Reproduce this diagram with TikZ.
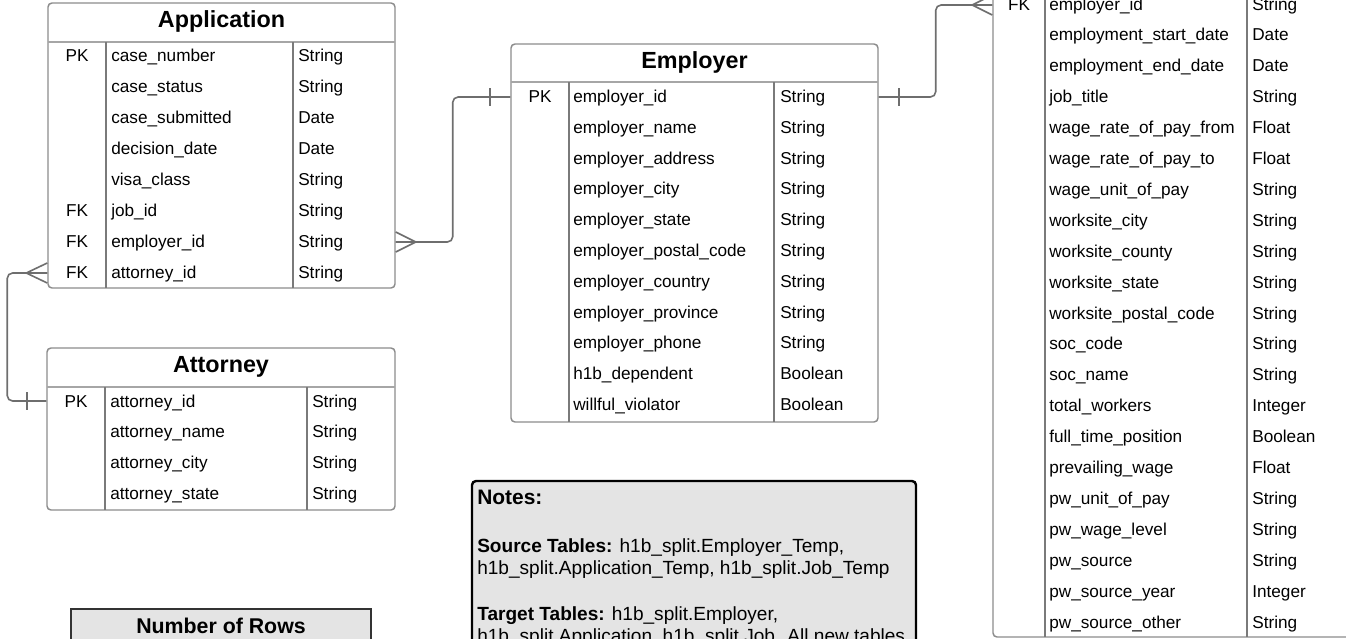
\documentclass[tikz,border=0pt]{standalone}
\usepackage{fontspec}
\setmainfont{Liberation Sans}
\usetikzlibrary{fit}
\definecolor{tblgray}{HTML}{8C8C8C}
\definecolor{sepgray}{HTML}{A6A6A6}
\definecolor{colgray}{HTML}{7A7A7A}
\definecolor{conngray}{HTML}{6E6E6E}
\definecolor{notefill}{HTML}{E4E4E4}
\begin{document}
\begin{tikzpicture}[x=0.75pt,y=-0.75pt,
  tbl/.style={draw=tblgray, line width=1.1pt, rounded corners=3pt, inner sep=0pt},
  sepline/.style={draw=sepgray, line width=1pt},
  colline/.style={draw=colgray, line width=1.1pt},
  cell/.style={inner sep=0pt, anchor=base west, font=\fontsize{12.9}{15}\selectfont},
  keycell/.style={inner sep=0pt, anchor=base, font=\fontsize{12.9}{15}\selectfont},
  ttl/.style={inner sep=0pt, anchor=base, font=\fontsize{17.5}{20}\selectfont\bfseries},
  conn/.style={draw=conngray, line width=1.2pt, rounded corners=4pt},
  foot/.style={draw=conngray, line width=1.2pt},
  notebox/.style={draw=black, line width=1.8pt, fill=notefill, rounded corners=3pt, inner sep=0pt},
  rowsbox/.style={draw=black!80, line width=1.2pt, fill=notefill, inner sep=0pt},
  notetxt/.style={inner sep=0pt, anchor=base west, font=\fontsize{14.3}{17}\selectfont},
]
\useasboundingbox (0,0) rectangle (1346,639);
\clip (0,0) rectangle (1346,639);

% ---------------- Application ----------------
\node[tbl, fit={(48,3) (395,288)}] (app) {};
\draw[sepline] (48,42) -- (395,42);
\draw[colline] (106,42) -- (106,288);
\draw[colline] (293,42) -- (293,288);
\node[ttl] (app-title) at (221.5,27.5) {Application};
\foreach \n/\t [count=\i from 0] in {case\_number/String, case\_status/String, case\_submitted/Date, decision\_date/Date, visa\_class/String, job\_id/String, employer\_id/String, attorney\_id/String}{
  \node[cell] (app-n\i) at (111,61+\i*31.1) {\n};
  \node[cell] (app-t\i) at (298,61+\i*31.1) {\t};
}
\node[keycell] (app-k0) at (77,61) {PK};
\node[keycell] (app-k5) at (77,61+5*31.1) {FK};
\node[keycell] (app-k6) at (77,61+6*31.1) {FK};
\node[keycell] (app-k7) at (77,61+7*31.1) {FK};

% ---------------- Attorney ----------------
\node[tbl, fit={(47,348) (395,510)}] (att) {};
\draw[sepline] (47,387) -- (395,387);
\draw[colline] (105,387) -- (105,510);
\draw[colline] (307,387) -- (307,510);
\node[ttl] (att-title) at (221,372.5) {Attorney};
\foreach \n/\t [count=\i from 0] in {attorney\_id/String, attorney\_name/String, attorney\_city/String, attorney\_state/String}{
  \node[cell] (att-n\i) at (110,407+\i*30.9) {\n};
  \node[cell] (att-t\i) at (312,407+\i*30.9) {\t};
}
\node[keycell] (att-k0) at (76,407) {PK};

% ---------------- Employer ----------------
\node[tbl, fit={(511,44) (878,422)}] (emp) {};
\draw[sepline] (511,82) -- (878,82);
\draw[colline] (569,82) -- (569,422);
\draw[colline] (774,82) -- (774,422);
\node[ttl] (emp-title) at (694.5,68) {Employer};
\foreach \n/\t [count=\i from 0] in {employer\_id/String, employer\_name/String, employer\_address/String, employer\_city/String, employer\_state/String, employer\_postal\_code/String, employer\_country/String, employer\_province/String, employer\_phone/String, h1b\_dependent/Boolean, willful\_violator/Boolean}{
  \node[cell] (emp-n\i) at (573,102.5+\i*30.8) {\n};
  \node[cell] (emp-t\i) at (780,102.5+\i*30.8) {\t};
}
\node[keycell] (emp-k0) at (540,102.5) {PK};

% ---------------- Job (cropped) ----------------
\node[tbl, fit={(993,-60) (1390,637)}] (job) {};
\draw[sepline] (993,-12) -- (1390,-12);
\draw[colline] (1045,-12) -- (1045,637);
\draw[colline] (1247,-12) -- (1247,637);
\foreach \n/\t [count=\i from 0] in {employer\_id/String, employment\_start\_date/Date, employment\_end\_date/Date, job\_title/String, wage\_rate\_of\_pay\_from/Float, wage\_rate\_of\_pay\_to/Float, wage\_unit\_of\_pay/String, worksite\_city/String, worksite\_county/String, worksite\_state/String, worksite\_postal\_code/String, soc\_code/String, soc\_name/String, total\_workers/Integer, full\_time\_position/Boolean, prevailing\_wage/Float, pw\_unit\_of\_pay/String, pw\_wage\_level/String, pw\_source/String, pw\_source\_year/Integer, pw\_source\_other/String}{
  \node[cell] (job-n\i) at (1049,10+\i*30.9) {\n};
  \node[cell] (job-t\i) at (1252,10+\i*30.9) {\t};
}
\node[keycell] (job-k0) at (1019,10) {FK};

% ---------------- Connectors ----------------
% Application.attorney_id  >----|  Attorney.attorney_id
\coordinate (c1a) at (app.west |- 0,273);
\coordinate (c1b) at (att.west |- 0,401);
\draw[conn] (c1a) -- ++(-40,0) |- (c1b);
\draw[foot] (c1a) ++(0,-10) -- ++(-21,10) -- ++(21,10);
\draw[foot] (c1b) ++(-19,-9) -- ++(0,18);

% Application.employer_id  >----|  Employer.employer_id
\coordinate (c2a) at (app.east |- 0,242);
\coordinate (c2b) at (emp.west |- 0,97);
\draw[conn] (c2a) -- ++(57,0) |- (c2b);
\draw[foot] (c2a) ++(0,-10) -- ++(20,10) -- ++(-20,10);
\draw[foot] (c2b) ++(-20,-9) -- ++(0,18);

% Employer.employer_id  |----<  Job.employer_id
\coordinate (c3a) at (emp.east |- 0,97);
\coordinate (c3b) at (job.west |- 0,5);
\draw[conn] (c3a) -- ++(57,0) |- (c3b);
\draw[foot] (c3a) ++(20,-9) -- ++(0,18);
\draw[foot] (c3b) ++(0,-10) -- ++(-20,10) -- ++(20,10);

% ---------------- Number of Rows ----------------
\node[rowsbox, fit={(71,609) (371,720)}] (rows) {};
\node[inner sep=0pt, anchor=base, font=\fontsize{16}{19}\selectfont\bfseries] (rows-title) at (221,633) {Number of Rows};

% ---------------- Notes ----------------
\node[notebox, fit={(472,481) (916,720)}] (notes) {};
\node[inner sep=0pt, anchor=base west, font=\fontsize{15.7}{19}\selectfont\bfseries] (notes-h) at (477,504.5) {Notes:};
\node[notetxt] (notes-s1) at (477,552) {\textbf{Source Tables:} h1b\_split.Employer\_Temp,};
\node[notetxt] (notes-s2) at (477,574) {h1b\_split.Application\_Temp, h1b\_split.Job\_Temp};
\node[notetxt] (notes-t1) at (477,620) {\textbf{Target Tables:} h1b\_split.Employer,};
\node[notetxt] (notes-t2) at (477,642) {h1b\_split.Application, h1b\_split.Job. All new tables};
\end{tikzpicture}
\end{document}
